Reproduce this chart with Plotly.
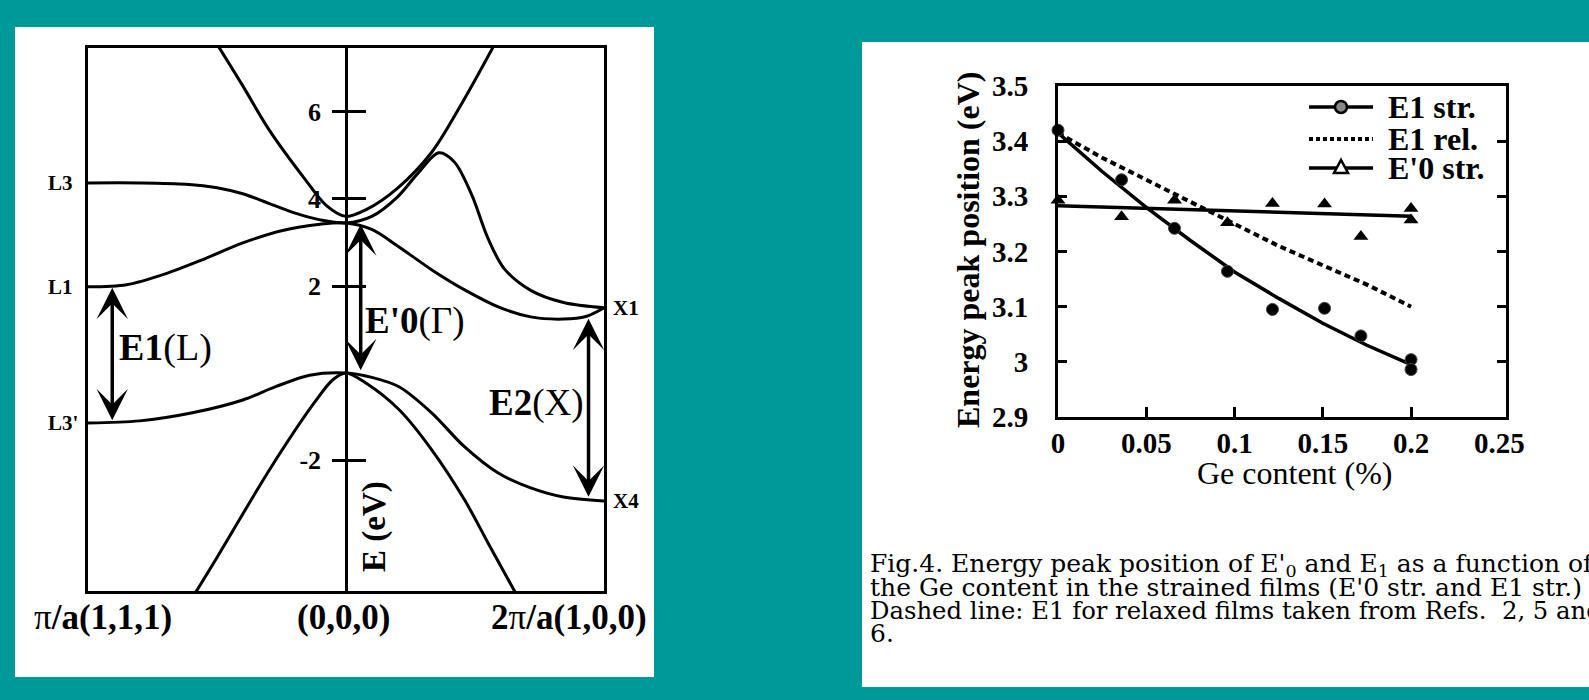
import plotly.graph_objects as go

W, H = 1589, 700
TEAL = "#009999"
SERIF = "Liberation Serif"
WIDE = "DejaVu Serif"

# ---------------- Left panel: band structure (k: L=-1, Gamma=0, X=1) ----------------
k_upper = [-0.52, -0.40, -0.298, -0.157, -0.078, 0.0, 0.08, 0.20, 0.333, 0.456, 0.58]
E_upper = [7.75, 6.60, 5.59, 4.44, 3.86, 3.60, 3.76, 4.25, 5.08, 6.27, 7.60]

k_L3 = [-1.0, -0.8, -0.62, -0.5, -0.4, -0.3, -0.2, -0.1, 0.0, 0.1, 0.2, 0.28, 0.36, 0.42, 0.487, 0.55, 0.613, 0.716, 0.843, 1.0]
E_L3 = [4.37, 4.37, 4.34, 4.26, 4.12, 3.90, 3.68, 3.52, 3.45, 3.60, 4.05, 4.60, 5.06, 4.85, 4.10, 3.10, 2.40, 1.90, 1.62, 1.50]

k_L1 = [-1.0, -0.85, -0.7, -0.55, -0.4, -0.25, -0.1, 0.0, 0.1, 0.2, 0.333, 0.46, 0.59, 0.716, 0.843, 0.93, 1.0]
E_L1 = [1.98, 2.03, 2.28, 2.62, 2.99, 3.27, 3.42, 3.45, 3.30, 2.92, 2.37, 1.91, 1.52, 1.29, 1.24, 1.30, 1.50]

k_L3p = [-1.0, -0.8, -0.6, -0.4, -0.275, -0.141, 0.0, 0.1, 0.207, 0.333, 0.46, 0.59, 0.716, 0.843, 1.0]
E_L3p = [-1.15, -1.10, -0.92, -0.62, -0.32, -0.05, 0.0, -0.10, -0.32, -0.92, -1.70, -2.30, -2.64, -2.85, -2.94]

k_low = [-0.62, -0.5, -0.294, -0.12, -0.05, 0.0, 0.077, 0.207, 0.333, 0.46, 0.55, 0.68]
E_low = [-5.40, -4.24, -2.20, -0.66, -0.15, 0.0, -0.23, -0.85, -1.77, -2.92, -3.90, -5.30]

bands = [(k_upper, E_upper), (k_L3, E_L3), (k_L1, E_L1), (k_L3p, E_L3p), (k_low, E_low)]

energy_ticks = [-2, 2, 4, 6]
energy_tick_text = ["-2", "2", "4", "6"]

# double arrows: k position, upper energy, lower energy
arrow_k = [-0.906, 0.057, 0.94]
arrow_top = [1.96, 3.42, 1.25]
arrow_bot = [-1.12, 0.03, -2.88]

point_labels_left = ["L3", "L1", "L3'"]
point_labels_right = ["X1", "X4"]

# ---------------- Right panel: peak energies vs Ge content ----------------
ge_pts = [0.0, 0.036, 0.066, 0.096, 0.1215, 0.151, 0.1716, 0.2, 0.2]
e1_str = [3.42, 3.33, 3.242, 3.164, 3.095, 3.097, 3.047, 3.004, 2.986]
e0_str = [3.293, 3.263, 3.293, 3.252, 3.287, 3.286, 3.227, 3.278, 3.257]

ge_fit = [0.0, 0.025, 0.05, 0.075, 0.1, 0.125, 0.15, 0.175, 0.2]
e1_str_fit = [3.415, 3.345, 3.28, 3.22, 3.163, 3.115, 3.07, 3.03, 2.995]
e1_rel = [3.415, 3.37, 3.33, 3.29, 3.25, 3.21, 3.175, 3.14, 3.10]
ge_line = [0.0, 0.2]
e0_str_fit = [3.283, 3.264]

ge_ticks = [0, 0.05, 0.1, 0.15, 0.2, 0.25]
ge_tick_text = ["0", "0.05", "0.1", "0.15", "0.2", "0.25"]
en_ticks = [2.9, 3.0, 3.1, 3.2, 3.3, 3.4, 3.5]
en_tick_text = ["2.9", "3", "3.1", "3.2", "3.3", "3.4", "3.5"]

legend_names = ["E1 str.", "E1 rel.", "E'0 str."]

caption = [
    "Fig.4. Energy peak position of E'<sub>0</sub> and E<sub>1</sub> as a function of",
    "the Ge content in the strained films (E'0 str. and E1 str.)",
    "Dashed line: E1 for relaxed films taken from Refs.  2, 5 and",
    "6.",
]
caption_sizes = [25, 25, 24.3, 25]


def px(x):
    return x / W


def py(y):
    return 1 - y / H


fig = go.Figure()

for kk, ee in bands:
    fig.add_trace(go.Scatter(x=kk, y=ee, mode="lines", line=dict(color="black", width=3, shape="spline", smoothing=0.9),
                             showlegend=False, hoverinfo="skip", xaxis="x", yaxis="y"))
# dummy traces so the Gamma-axis overlays are drawn
fig.add_trace(go.Scatter(x=[None], y=[None], xaxis="x", yaxis="y3", showlegend=False))
fig.add_trace(go.Scatter(x=[None], y=[None], xaxis="x", yaxis="y4", showlegend=False))

# right panel data
fig.add_trace(go.Scatter(x=ge_fit, y=e1_str_fit, mode="lines", line=dict(color="black", width=3.5),
                         showlegend=False, xaxis="x2", yaxis="y2"))
fig.add_trace(go.Scatter(x=ge_fit, y=e1_rel, mode="lines", line=dict(color="black", width=4, dash="6px,4px"),
                         showlegend=False, xaxis="x2", yaxis="y2"))
fig.add_trace(go.Scatter(x=ge_line, y=e0_str_fit, mode="lines", line=dict(color="black", width=3.5),
                         showlegend=False, xaxis="x2", yaxis="y2"))
fig.add_trace(go.Scatter(x=ge_pts, y=e1_str, mode="markers", marker=dict(symbol="circle", size=12, color="black",
                         line=dict(color="#444", width=1)), cliponaxis=False, showlegend=False, xaxis="x2", yaxis="y2"))
fig.add_trace(go.Scatter(x=ge_pts, y=e0_str, mode="markers", marker=dict(symbol="triangle-up", size=13, color="black"),
                         cliponaxis=False, showlegend=False, xaxis="x2", yaxis="y2"))

xL = [-1.0, 1.0]
yL = [-5.01, 7.47]
dom_x1 = [px(88), px(604)]
gamma_pos = dom_x1[0] + (0 - xL[0]) / (xL[1] - xL[0]) * (dom_x1[1] - dom_x1[0])

frame = dict(showline=True, linecolor="black", linewidth=3, mirror=True, showgrid=False, zeroline=False,
             automargin=False)

fig.update_layout(
    width=W, height=H, margin=dict(l=0, r=0, t=0, b=0, pad=0, autoexpand=False),
    paper_bgcolor=TEAL, plot_bgcolor="white", showlegend=False,
    xaxis=dict(domain=dom_x1, range=xL, showticklabels=False, ticks="", anchor="y", **frame),
    yaxis=dict(domain=[py(591), py(48)], range=yL, showticklabels=False, ticks="", anchor="x", **frame),
    yaxis3=dict(overlaying="y", anchor="free", position=gamma_pos, side="left", range=yL, automargin=False,
                showline=True, linecolor="black", linewidth=2.5, showgrid=False, zeroline=False,
                ticks="outside", ticklen=13, tickwidth=3, tickcolor="black",
                tickvals=energy_ticks, ticktext=energy_tick_text, ticklabelstandoff=6,
                tickfont=dict(family=SERIF, size=26, color="black", weight="bold")),
    yaxis4=dict(overlaying="y", anchor="free", position=gamma_pos, side="right", range=yL, automargin=False,
                showline=False, showgrid=False, zeroline=False, showticklabels=False,
                ticks="outside", ticklen=19, tickwidth=3, tickcolor="black", tickvals=energy_ticks),
    xaxis2=dict(domain=[px(1058), px(1506)], range=[0, 0.2538], anchor="y2",
                tickvals=ge_ticks, ticktext=ge_tick_text, ticks="", ticklabelstandoff=-2,
                minor=dict(tickvals=ge_ticks[1:5], ticks="inside", ticklen=10, tickwidth=2.5, tickcolor="black"),
                tickfont=dict(family=SERIF, size=29, color="black", weight="bold"), **frame),
    yaxis2=dict(domain=[py(417), py(86)], range=[2.9, 3.5], anchor="x2", automargin=False,
                tickvals=en_ticks, ticktext=en_tick_text, ticks="inside", ticklen=9, tickwidth=2.5,
                tickcolor="black", ticklabelstandoff=21,
                tickfont=dict(family=SERIF, size=29, color="black", weight="bold"),
                showline=True, linecolor="black", linewidth=3, mirror="ticks", showgrid=False, zeroline=False),
)

# white panels
fig.add_shape(type="rect", xref="paper", yref="paper", x0=px(15), x1=px(654), y0=py(677), y1=py(27),
              fillcolor="white", line=dict(width=0), layer="below")
fig.add_shape(type="rect", xref="paper", yref="paper", x0=px(862), x1=1.0, y0=py(687), y1=py(42),
              fillcolor="white", line=dict(width=0), layer="below")

# double arrows
for kx, et, eb in zip(arrow_k, arrow_top, arrow_bot):
    fig.add_annotation(x=kx, y=et, ax=kx, ay=eb, xref="x", yref="y", axref="x", ayref="y", text="",
                       showarrow=True, arrowhead=3, arrowsize=1.5, arrowwidth=3.5, arrowcolor="black",
                       arrowside="end+start", startarrowhead=3, startarrowsize=1.5, standoff=0, startstandoff=0)


def ann(text, x, y, size, family=SERIF, xanchor="center", yanchor="middle", angle=0, xref="paper", yref="paper"):
    fig.add_annotation(text=text, x=x, y=y, xref=xref, yref=yref, showarrow=False, xanchor=xanchor,
                       yanchor=yanchor, textangle=angle, font=dict(family=family, size=size, color="black"))


ann("<b>E1</b>(L)", px(165), py(347), 38)
ann("<b>E'0</b>(Γ)", px(415), py(321), 37)
ann("<b>E2</b>(X)", px(536), py(403), 37)
ann("<b>E (eV)</b>", px(374), py(527), 33, angle=-90)

for lab, e in zip(point_labels_left, [E_L3[0], E_L1[0], E_L3p[0]]):
    ann("<b>" + lab + "</b>", px(46), e, 21, xanchor="left", yref="y")
for lab, e in zip(point_labels_right, [E_L3[-1], E_L3p[-1]]):
    ann("<b>" + lab + "</b>", px(611), e, 21, xanchor="left", yref="y")

ann("π<b>/a(1,1,1)</b>", px(103), py(617), 35)
ann("<b>(0,0,0)</b>", px(343), py(617), 35)
ann("<b>2</b>π<b>/a(1,0,0)</b>", px(569), py(617), 35)

# right panel titles
ann("<b>Energy peak position (eV)</b>", px(968), py(250), 32, angle=-90)
ann("Ge content (%)", px(1294), py(473), 32)

# legend (drawn by hand, compact rows as in the figure)
leg_rows = [107, 139, 168]
lx0, lx1, lxm = 1309, 1373, 1341
for i, (name, ry) in enumerate(zip(legend_names, leg_rows)):
    dash = "solid" if i != 1 else "4px,3px"
    fig.add_shape(type="line", xref="paper", yref="paper", x0=px(lx0), x1=px(lx1), y0=py(ry), y1=py(ry),
                  line=dict(color="black", width=3.5 if i != 1 else 4, dash=dash))
    ann("<b>" + name + "</b>", px(1386), py(ry), 32, xanchor="left")
fig.add_shape(type="circle", xref="paper", yref="paper", x0=px(lxm - 6), x1=px(lxm + 6),
              y0=py(leg_rows[0] + 6), y1=py(leg_rows[0] - 6), fillcolor="#888", line=dict(color="black", width=2.5))
ty = leg_rows[2]
fig.add_shape(type="path", xref="paper", yref="paper",
              path=f"M {px(lxm - 7)} {py(ty + 5)} L {px(lxm + 7)} {py(ty + 5)} L {px(lxm)} {py(ty - 8)} Z",
              fillcolor="white", line=dict(color="black", width=2.5))

for i, (line, fs) in enumerate(zip(caption, caption_sizes)):
    ann(line, px(868), py(565 + 22.7 * i), fs, family=WIDE, xanchor="left")

fig.write_html("out.html", config={"displayModeBar": False},
               post_script="document.body.style.margin='0';document.body.style.padding='0';"
                           "document.body.style.background='#009999';document.body.style.overflow='hidden';")
